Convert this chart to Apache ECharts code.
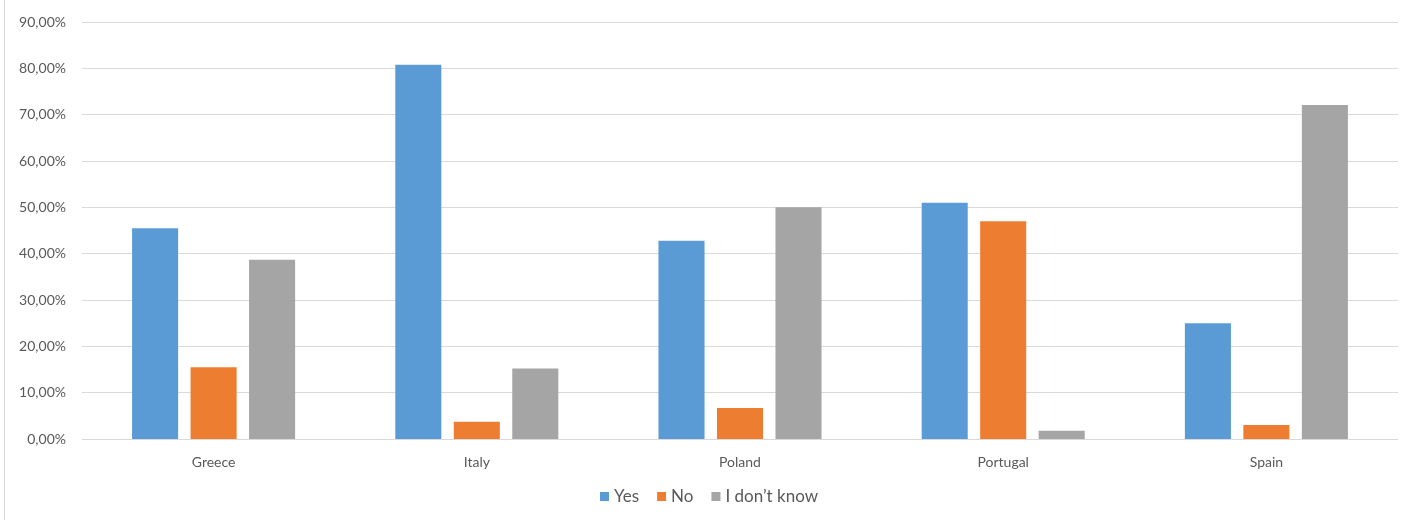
<!DOCTYPE html>
<html>
<head>
<meta charset="utf-8">
<script src="https://cdn.jsdelivr.net/npm/echarts@6/dist/echarts.min.js"></script>
<style>
html,body{margin:0;padding:0;background:#fff;}
#chart{width:1418px;height:520px;}
</style>
</head>
<body>
<div id="chart"></div>
<script>
const categories = ['Greece', 'Italy', 'Poland', 'Portugal', 'Spain'];
const yesValues = [45.5, 80.8, 42.8, 51.0, 25.0];
const noValues = [15.5, 3.7, 6.7, 47.0, 3.0];
const dontKnowValues = [38.7, 15.2, 50.0, 1.8, 72.1];
const seriesNames = ['Yes', 'No', 'I don\u2019t know'];
const colors = ['#5B9BD5', '#ED7D31', '#A5A5A5'];

const chart = echarts.init(document.getElementById('chart'), null, {renderer: 'canvas'});
const fontFamily = 'Lato, "Open Sans", sans-serif';
const mk = (name, data, color) => ({
  name, type: 'bar', data, barWidth: '17.5%', barGap: '27%',
  itemStyle: {color}
});
chart.setOption({
  animation: false,
  color: colors,
  graphic: [{
    type: 'line', shape: {x1: 4.5, y1: 0, x2: 4.5, y2: 520},
    style: {stroke: '#D9D9D9', lineWidth: 1}
  }],
  grid: {left: 82, right: 20, top: 22, bottom: 81},
  legend: {
    bottom: 10, left: 'center', itemWidth: 9, itemHeight: 9, itemGap: 18,
    icon: 'rect',
    textStyle: {color: '#595959', fontSize: 17, fontFamily},
    data: seriesNames
  },
  xAxis: {
    type: 'category', data: categories,
    axisLine: {lineStyle: {color: '#D9D9D9', width: 1}},
    axisTick: {show: false},
    axisLabel: {color: '#595959', fontSize: 14, fontFamily, margin: 16}
  },
  yAxis: {
    type: 'value', min: 0, max: 90, interval: 10,
    axisLine: {show: false}, axisTick: {show: false},
    splitLine: {lineStyle: {color: '#D9D9D9', width: 1}},
    axisLabel: {
      color: '#595959', fontSize: 14, fontFamily, margin: 16,
      formatter: v => v.toFixed(2).replace('.', ',') + '%'
    }
  },
  series: [
    mk(seriesNames[0], yesValues, colors[0]),
    mk(seriesNames[1], noValues, colors[1]),
    mk(seriesNames[2], dontKnowValues, colors[2])
  ]
});
</script>
</body>
</html>
